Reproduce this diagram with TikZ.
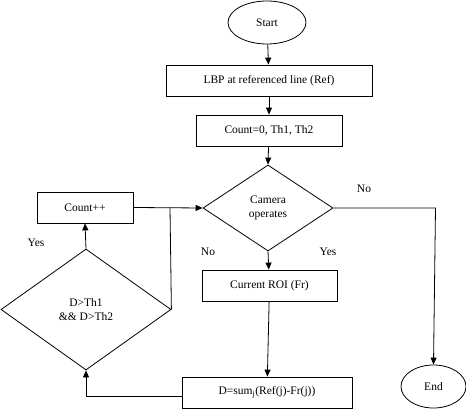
\documentclass[tikz,border=0pt]{standalone}
\usepackage{fontspec}
\setmainfont{Liberation Serif}
\usetikzlibrary{shapes.geometric,arrows.meta}
\begin{document}
\begin{tikzpicture}[x=1pt,y=-1pt,
  every node/.style={font=\fontsize{11.5}{13}\selectfont, inner sep=0pt},
  proc/.style={draw, line width=0.8pt, rectangle},
  term/.style={draw, line width=0.8pt, ellipse},
  dec/.style={draw, line width=0.8pt, diamond, align=center},
  lbl/.style={font=\fontsize{11.5}{13}\selectfont},
  arr/.style={line width=0.8pt, -{Triangle[length=7pt,width=6pt]}},
  ln/.style={line width=0.8pt}]
\useasboundingbox (0,0) rectangle (466,414);
\node[term, minimum width=78pt, minimum height=43pt] (start) at (267,22.5) {Start};
\node[proc, minimum width=206pt, minimum height=31pt] (lbp) at (269,80.5) {LBP at referenced line (Ref)};
\node[proc, minimum width=146pt, minimum height=31pt] (cnt) at (269,130.5) {Count=0, Th1, Th2};
\node[dec, minimum width=130pt, minimum height=86pt] (cam) at (268,208) {Camera\\[1pt]operates};
\node[proc, minimum width=135pt, minimum height=31pt] (roi) at (269.5,285.5) {Current ROI (Fr)};
\node[proc, minimum width=170pt, minimum height=31pt] (dbox) at (267,392.5) {D=sum\textsubscript{j}(Ref(j)-Fr(j))};
\node[term, minimum width=65pt, minimum height=43pt] (end) at (433.5,386.5) {End};
\node[dec, minimum width=170pt, minimum height=121pt] (thr) at (86,309.5) {D>Th1\\[1pt]\&\& D>Th2};
\node[proc, minimum width=96pt, minimum height=31pt] (inc) at (85,207.5) {Count++};
\coordinate (join) at (170,207.5);
\coordinate (rc) at (435.5,208);
\coordinate (dl) at (86,396.5);
\node[lbl] (no1) at (364,189) {No};
\node[lbl] (no2) at (208,252) {No};
\node[lbl] (yes1) at (328,252) {Yes};
\node[lbl] (yes2) at (36,243) {Yes};
\draw[arr] (start) -- (lbp);
\draw[arr] (lbp) -- (cnt);
\draw[arr] (cnt) -- (cam.north);
\draw[arr] (cam.south) -- (roi);
\draw[arr] (roi) -- (dbox);
\draw[arr] (cam.east) -- (rc) -- (end.north);
\draw[arr] (dbox.west |- dl) -- (dl) -- (thr.south);
\draw[arr] (thr.north) -- (inc.south);
\draw[arr] (inc.east) -- (cam.west);
\draw[ln] (thr.east) -- (join);
\end{tikzpicture}
\end{document}
